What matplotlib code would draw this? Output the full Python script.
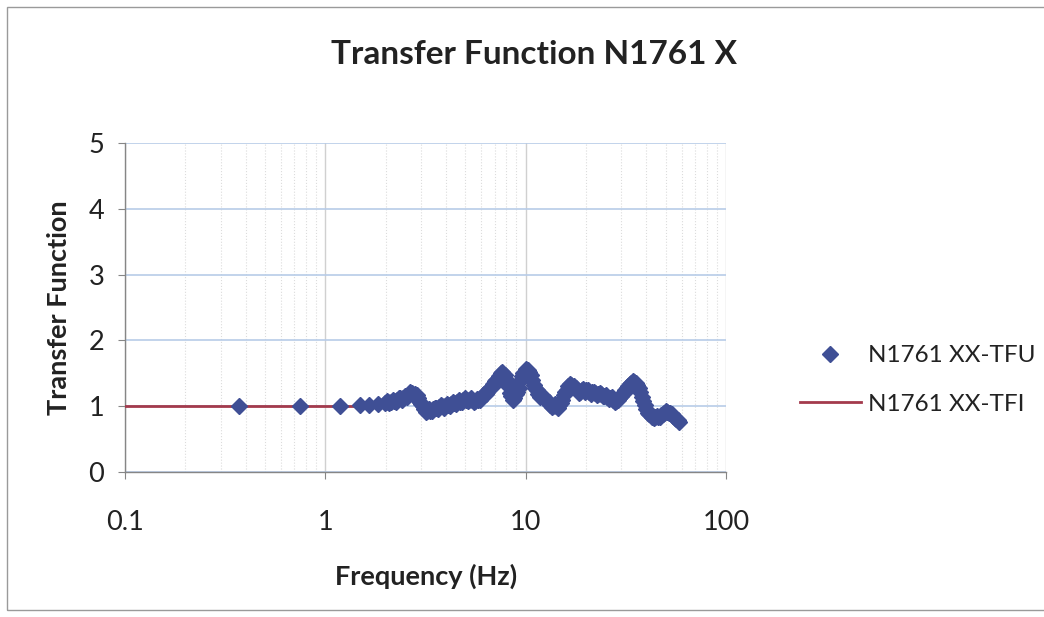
import numpy as np
import matplotlib.pyplot as plt
from matplotlib.patches import Rectangle

# measured transfer function (N1761 XX-TFU), read along the band
freq_hz = [0.37, 0.75, 1.18, 1.49, 1.65, 1.83,
           1.99, 2.06, 2.13, 2.21, 2.28, 2.36, 2.45, 2.53, 2.62, 2.71, 2.81, 2.91,
           3.01, 3.12, 3.23, 3.34, 3.46, 3.58, 3.70, 3.83, 3.97, 4.11, 4.25, 4.40,
           4.56, 4.72, 4.88, 5.05, 5.23, 5.41, 5.60, 5.80, 6.00, 6.21, 6.43, 6.66,
           6.89, 7.13, 7.38, 7.64, 7.91, 8.19, 8.48, 8.77, 9.08, 9.40, 9.73, 10.07,
           10.43, 10.79, 11.17, 11.56, 11.97, 12.39, 12.82, 13.27, 13.74, 14.22,
           14.72, 15.24, 15.77, 16.33, 16.90, 17.49, 18.11, 18.74, 19.40, 20.08,
           20.79, 21.52, 22.27, 23.05, 23.86, 24.70, 25.57, 26.47, 27.39, 28.35,
           29.35, 30.38, 31.44, 32.55, 33.69, 34.87, 36.10, 37.36, 38.67, 40.03,
           41.44, 42.89, 44.40, 45.95, 47.57, 49.24, 50.96, 52.75, 54.60, 56.52, 58.50]
tfu = [1.00, 1.00, 1.00, 1.02, 1.02, 1.03,
       1.05, 1.06, 1.07, 1.08, 1.10, 1.12, 1.13, 1.15, 1.18, 1.20, 1.19, 1.12,
       1.03, 0.95, 0.92, 0.93, 0.95, 0.97, 0.99, 1.00, 1.01, 1.02, 1.03, 1.05,
       1.06, 1.07, 1.09, 1.10, 1.10, 1.09, 1.08, 1.10, 1.13, 1.18, 1.22, 1.27,
       1.33, 1.40, 1.46, 1.52, 1.47, 1.30, 1.15, 1.12, 1.22, 1.38, 1.50, 1.56,
       1.52, 1.40, 1.27, 1.18, 1.15, 1.12, 1.08, 1.02, 1.00, 1.00,
       1.02, 1.10, 1.22, 1.30, 1.32, 1.30, 1.24, 1.22, 1.26, 1.24,
       1.22, 1.21, 1.20, 1.19, 1.18, 1.16, 1.14, 1.12, 1.10, 1.08,
       1.12, 1.18, 1.24, 1.31, 1.36, 1.37, 1.32, 1.22, 1.08, 0.95,
       0.88, 0.84, 0.83, 0.84, 0.86, 0.89, 0.91, 0.90, 0.85, 0.80, 0.76]

# in-between readings (band is thicker than one marker)
freq_hz_b = [2.02, 2.09, 2.17, 2.25, 2.32, 2.40, 2.49, 2.57, 2.66, 2.76,
             2.86, 2.96, 3.06, 3.17, 3.28, 3.40, 3.52, 3.64, 3.76, 3.90,
             4.04, 4.18, 4.32, 4.48, 4.64, 4.80, 4.96, 5.14, 5.32, 5.50,
             5.70, 5.90, 6.10, 6.32, 6.54, 6.77, 7.01, 7.25, 7.51, 7.77,
             8.05, 8.33, 8.62, 8.92, 9.24, 9.56, 9.90, 10.25, 10.61, 10.98,
             11.36, 11.76, 12.18, 12.60, 13.04, 13.50, 13.98, 14.47, 14.98, 15.50,
             16.05, 16.61, 17.19, 17.80, 18.42, 19.07, 19.74, 20.43, 21.15, 21.89,
             22.66, 23.45, 24.28, 25.13, 26.02, 26.93, 27.87, 28.85, 29.86, 30.91,
             31.99, 33.12, 34.28, 35.48, 36.73, 38.01, 39.35, 40.73, 42.16, 43.64,
             45.17, 46.75, 48.40, 50.09, 51.85, 53.67, 55.55, 57.50]
tfu_b = [1.08, 1.05, 1.09, 1.07, 1.13, 1.10, 1.16, 1.14, 1.22, 1.16,
         1.17, 1.06, 1.00, 0.91, 0.95, 0.92, 0.98, 0.96, 1.02, 0.98,
         1.04, 1.01, 1.06, 1.03, 1.09, 1.06, 1.12, 1.08, 1.12, 1.06,
         1.11, 1.10, 1.17, 1.19, 1.26, 1.29, 1.38, 1.42, 1.50, 1.48,
         1.40, 1.20, 1.10, 1.18, 1.28, 1.46, 1.52, 1.55, 1.48, 1.32,
         1.24, 1.14, 1.16, 1.09, 1.06, 0.99, 1.03, 0.98, 1.05, 1.17,
         1.25, 1.33, 1.29, 1.28, 1.20, 1.25, 1.22, 1.25, 1.19, 1.22,
         1.17, 1.20, 1.15, 1.17, 1.11, 1.14, 1.07, 1.09, 1.16, 1.20,
         1.28, 1.33, 1.38, 1.35, 1.28, 1.14, 1.02, 0.90, 0.87, 0.82,
         0.85, 0.83, 0.88, 0.92, 0.89, 0.88, 0.82, 0.79]

# theoretical transfer function (N1761 XX-TFI)
tfi_freq = [0.1, 2.1]
tfi = [1.0, 1.0]

plt.rcParams['font.family'] = ['Lato', 'DejaVu Sans']

fig = plt.figure(figsize=(10.44, 6.17), dpi=100)
ax = fig.add_axes([125 / 1044, 1 - 472 / 617, (726 - 125) / 1044, (472 - 143) / 617])

ax.plot(tfi_freq, tfi, color='#A33A4C', lw=2.0, label='N1761 XX-TFI', zorder=3)
ax.plot(freq_hz + freq_hz_b, tfu + tfu_b, ls='none', marker='D', ms=8.5,
        color='#3F4F95', label='N1761 XX-TFU', zorder=4)

ax.set_xscale('log')
ax.set_xlim(0.1, 100)
ax.set_ylim(0, 5)
ax.set_yticks([0, 1, 2, 3, 4, 5])
ax.set_xticks([0.1, 1, 10, 100])
ax.set_xticklabels(['0.1', '1', '10', '100'])
ax.xaxis.set_minor_formatter(plt.NullFormatter())

ax.grid(True, axis='y', which='major', color='#B7CCE8', lw=1.2, zorder=0)
ax.grid(True, axis='x', which='major', color='#D0D0D0', lw=1.0, zorder=0)
ax.grid(True, axis='x', which='minor', color='#DCDCDC', lw=0.8, ls=':', zorder=0)

for s in ['top', 'right']:
    ax.spines[s].set_visible(False)
for s in ['left', 'bottom']:
    ax.spines[s].set_color('#868686')
    ax.spines[s].set_linewidth(1.0)

ax.tick_params(axis='both', which='major', direction='out', length=5,
               color='#868686', labelsize=19.5, labelcolor='#222222')
ax.tick_params(axis='x', which='minor', length=0)
ax.tick_params(axis='x', which='major', pad=22)
ax.tick_params(axis='y', which='major', pad=10)

ax.set_xlabel('Frequency (Hz)', fontsize=19.5, fontweight='bold', color='#222222')
ax.set_ylabel('Transfer Function', fontsize=19.5, fontweight='bold', color='#222222')
ax.xaxis.set_label_coords((426 - 125) / 601, (472 - 564) / 329)
ax.yaxis.set_label_coords((71 - 125) / 601, 0.5)

fig.text(534 / 1044, 1 - 55 / 617, 'Transfer Function N1761 X', ha='center', va='center',
         fontsize=24, fontweight='bold', color='#222222')

handles, labels = ax.get_legend_handles_labels()
leg = fig.legend(handles[::-1], labels[::-1], loc='center left',
                 bbox_to_anchor=(800 / 1044, 1 - 380 / 617), frameon=False,
                 fontsize=17.5, handlelength=2.5, handletextpad=0.3,
                 labelspacing=1.15, borderpad=0, borderaxespad=0)
for t in leg.get_texts():
    t.set_color('#222222')

fig.patches.append(Rectangle((7 / 1044, 7 / 617), 1.1, 1 - 14 / 617, transform=fig.transFigure,
                             fill=False, edgecolor='#9A9A9A', lw=1.0))

fig.savefig('out.png', dpi=100)
